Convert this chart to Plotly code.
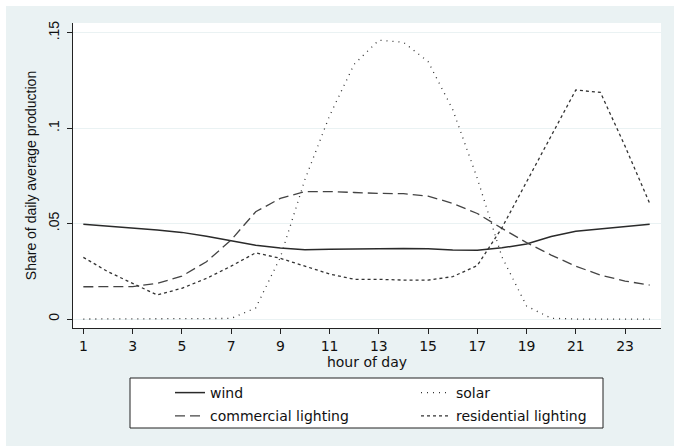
import plotly.graph_objects as go

hours = list(range(1, 25))

wind = [0.0496, 0.0487, 0.0478, 0.0466, 0.0454, 0.0434, 0.0410, 0.0386, 0.0372, 0.0363,
        0.0365, 0.0367, 0.0370, 0.0370, 0.0368, 0.0362, 0.0360, 0.0373, 0.0393, 0.0432,
        0.0460, 0.0471, 0.0483, 0.0496]
solar = [0.0, 0.0, 0.0, 0.0, 0.0, 0.0, 0.0003, 0.0058, 0.0323, 0.0731,
         0.1065, 0.1335, 0.1461, 0.1450, 0.1349, 0.1098, 0.0737, 0.0326, 0.0068, 0.0004,
         0.0, 0.0, 0.0, 0.0]
commercial = [0.0169, 0.0169, 0.0170, 0.0187, 0.0225, 0.0300, 0.0414, 0.0562, 0.0632, 0.0668,
              0.0668, 0.0663, 0.0658, 0.0657, 0.0644, 0.0606, 0.0553, 0.0475, 0.0400, 0.0335,
              0.0277, 0.0230, 0.0199, 0.0178]
residential = [0.0323, 0.0248, 0.0187, 0.0126, 0.0161, 0.0213, 0.0277, 0.0347, 0.0318, 0.0277,
               0.0236, 0.0208, 0.0208, 0.0204, 0.0204, 0.0222, 0.0280, 0.0478, 0.0716, 0.0955,
               0.1200, 0.1187, 0.0906, 0.0606]

x_ticks = list(range(1, 24, 2))
y_ticks = [0, 0.05, 0.1, 0.15]
y_tick_text = ["0", ".05", ".1", ".15"]

# name, values, dash, colour, width, legend column
series = [
    ("wind", wind, "solid", "#2a2a2a", 1.5, "legend"),
    ("solar", solar, "1px,5px", "#333333", 1.3, "legend2"),
    ("commercial lighting", commercial, "10px,5px", "#444444", 1.3, "legend"),
    ("residential lighting", residential, "3px,3px", "#333333", 1.3, "legend2"),
]

W, H = 674, 446
ML, MR, MT, MB = 73, 13, 23, 118
PW, PH = W - ML - MR, H - MT - MB
BG = "#EAF2F3"
FONT = "Liberation Sans, Arial, sans-serif"
FONT_WIDE = "DejaVu Sans, Liberation Sans, sans-serif"


def px_x(p):
    return (p - ML) / PW


def px_y(p):
    return 1 - (p - MT) / PH


fig = go.Figure()
for name, vals, dash, color, width, leg in series:
    fig.add_trace(go.Scatter(
        x=hours, y=vals, mode="lines", name=name, legend=leg, legendgroup=name,
        line=dict(color=color, width=width, dash=dash),
    ))

# thin white strip at top and left edges (as in reference image)
fig.add_shape(type="rect", xref="paper", yref="paper",
              x0=px_x(0), x1=px_x(W), y0=px_y(6), y1=px_y(0),
              fillcolor="white", line_width=0, layer="above")
fig.add_shape(type="rect", xref="paper", yref="paper",
              x0=px_x(0), x1=px_x(6), y0=px_y(H), y1=px_y(0),
              fillcolor="white", line_width=0, layer="above")
# legend frame
fig.add_shape(type="rect", xref="paper", yref="paper",
              x0=px_x(130), x1=px_x(603), y0=px_y(428), y1=px_y(378),
              fillcolor="white", line=dict(color="#222222", width=1), layer="below")

leg_common = dict(
    orientation="v", xanchor="left", yanchor="top",
    bgcolor="rgba(0,0,0,0)", borderwidth=0, tracegroupgap=2,
    font=dict(family=FONT_WIDE, size=14, color="#111111"),
)

fig.update_layout(
    width=W, height=H,
    margin=dict(l=ML, r=MR, t=MT, b=MB, pad=0, autoexpand=False),
    paper_bgcolor=BG, plot_bgcolor="white",
    font=dict(family=FONT, size=14, color="#111111"),
    showlegend=True,
    legend=dict(x=px_x(170), y=px_y(377), **leg_common),
    legend2=dict(x=px_x(416), y=px_y(377), **leg_common),
    xaxis=dict(
        range=[0.58, 24.46], tickmode="array", tickvals=x_ticks,
        ticks="outside", ticklen=5, tickwidth=1, tickcolor="#222222",
        showline=True, linecolor="#222222", linewidth=1.3,
        showgrid=False, zeroline=False, ticklabelstandoff=0,
        title=dict(text="hour of day", standoff=0, font=dict(family=FONT_WIDE, size=14)),
        tickfont=dict(family=FONT_WIDE, size=14),
    ),
    yaxis=dict(
        range=[-0.0047, 0.1551], tickmode="array", tickvals=y_ticks, ticktext=y_tick_text,
        tickangle=-90, ticklabelstandoff=2,
        ticks="outside", ticklen=5, tickwidth=1, tickcolor="#222222",
        showline=True, linecolor="#222222", linewidth=1.3,
        showgrid=True, gridcolor=BG, gridwidth=1, zeroline=False,
        title=dict(text="Share of daily average production", standoff=6, font=dict(size=14)),
        tickfont=dict(size=14),
    ),
)

fig.write_html("out.html")
